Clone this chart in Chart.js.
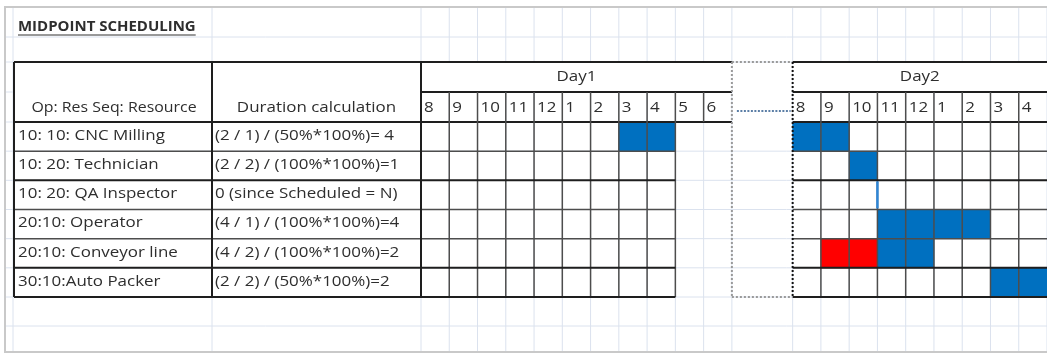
<!DOCTYPE html>
<html>
<head>
<meta charset="utf-8">
<title>Midpoint scheduling</title>
<script src="https://cdn.jsdelivr.net/npm/chart.js@4.4.1/dist/chart.umd.min.js"></script>
<style>
    html, body { margin: 0; padding: 0; background: #fff; }
    #sheet { display: block; }
</style>
</head>
<body>
<canvas id="sheet" width="1047" height="354"></canvas>
<script>
    // Table rows
    const resources = ['10: 10: CNC Milling', '10: 20: Technician', '10: 20: QA Inspector',
        '20:10: Operator', '20:10: Conveyor line', '30:10:Auto Packer'];
    const durations = ['(2 / 1) / (50%*100%)= 4', '(2 / 2) / (100%*100%)=1', '0 (since Scheduled = N)',
        '(4 / 1) / (100%*100%)=4', '(4 / 2) / (100%*100%)=2', '(2 / 2) / (50%*100%)=2'];

    // Hour columns
    const day1Hours = ['8', '9', '10', '11', '12', '1', '2', '3', '4', '5', '6'];
    const day2Hours = ['8', '9', '10', '11', '12', '1', '2', '3', '4'];
    const dayLabels = ['Day1', 'Day2'];

    // Scheduled blocks, [first hour index, end hour index] per row
    const blueDay1 = [[7, 9], null, null, null, null, null];
    const blueDay2 = [[0, 2], [2, 3], null, [3, 7], [3, 5], [7, 9]];
    const redDay2 = [null, null, null, null, [1, 3], null];
    // QA inspector link (row, day2 hour index)
    const qaLink = [2, 3];

    const GAP = 2.15;   // width of the "......" column, in hour slots
    const day2Start = day1Hours.length + GAP;
    const totalSlots = day2Start + day2Hours.length;

    function toSlots(list, offset) {
        return list.map(function (v) { return v ? [v[0] + offset, v[1] + offset] : null; });
    }

    const FONT = '"Open Sans", "Liberation Sans", sans-serif';
    const TXT = '#2e2e2e';
    const LIGHT = '#dbe2ee';
    const STRETCH = 1.13;   // calibri-ish wide look

    // sheet layout (pixels)
    const L = { frameX: 5, frameY: 7, c0: 13, t0: 14, t1: 212, t2: 421,
        r0: 37, hTop: 62, hMid: 92, bottom2: 326, frameB: 352 };

    function line(ctx, x1, y1, x2, y2, color, w, dash) {
        ctx.save();
        ctx.strokeStyle = color;
        ctx.lineWidth = w;
        ctx.setLineDash(dash || []);
        ctx.beginPath();
        ctx.moveTo(x1, y1);
        ctx.lineTo(x2, y2);
        ctx.stroke();
        ctx.restore();
    }

    function text(ctx, s, x, y, align, font, sx) {
        ctx.save();
        ctx.fillStyle = TXT;
        ctx.font = font || ('15px ' + FONT);
        ctx.textAlign = align || 'left';
        ctx.textBaseline = 'middle';
        ctx.translate(x, y);
        ctx.scale(sx || STRETCH, 1);
        ctx.fillText(s, 0, 0);
        const w = ctx.measureText(s).width * (sx || STRETCH);
        ctx.restore();
        return w;
    }

    const sheetPlugin = {
        id: 'sheet',
        beforeDatasetsDraw(chart) {
            const ctx = chart.ctx, xs = chart.scales.x, a = chart.chartArea;
            const W = chart.width;
            const rowH = (a.bottom - a.top) / resources.length;
            const rowsY = [L.frameY, L.r0, L.hTop, L.hMid, a.top];
            for (let i = 1; i <= resources.length; i++) rowsY.push(a.top + i * rowH);
            rowsY.push(L.bottom2);

            ctx.save();
            ctx.fillStyle = '#fff';
            ctx.fillRect(0, 0, W, chart.height);
            ctx.restore();

            // light spreadsheet grid
            const colsX = [L.c0, L.t1, L.t2];
            for (let i = 1; i <= day1Hours.length; i++) colsX.push(xs.getPixelForValue(i));
            for (let j = 0; j <= day2Hours.length; j++) colsX.push(xs.getPixelForValue(day2Start + j));
            colsX.forEach(function (x) { line(ctx, x, L.frameY, x, L.frameB, LIGHT, 1); });
            rowsY.forEach(function (y) { line(ctx, L.frameX, y, W, y, LIGHT, 1); });

            // merged cells
            ctx.save();
            ctx.fillStyle = '#fff';
            ctx.fillRect(L.t0, L.hTop, L.t2 - L.t0, a.top - L.hTop);
            ctx.fillRect(L.t2, L.hTop, xs.getPixelForValue(day1Hours.length) - L.t2, L.hMid - L.hTop);
            ctx.fillRect(xs.getPixelForValue(day2Start), L.hTop, W, L.hMid - L.hTop);
            ctx.fillRect(xs.getPixelForValue(day1Hours.length) + 1, L.hTop + 1,
                xs.getPixelForValue(day2Start) - xs.getPixelForValue(day1Hours.length) - 2, a.top - L.hTop);
            ctx.restore();

            // outer frame
            ctx.save();
            ctx.strokeStyle = '#c9c9c9';
            ctx.lineWidth = 2;
            ctx.strokeRect(L.frameX, L.frameY, W + 10, L.frameB - L.frameY);
            ctx.restore();
        },
        afterDatasetsDraw(chart) {
            const ctx = chart.ctx, xs = chart.scales.x, a = chart.chartArea;
            const W = chart.width;
            const rowH = (a.bottom - a.top) / resources.length;
            const d1End = xs.getPixelForValue(day1Hours.length);
            const d1Dark = xs.getPixelForValue(day1Hours.length - 2);
            const d2Left = xs.getPixelForValue(day2Start);
            const heavy = [0, 2, 5, 6];
            const DARK = '#1e1e1e', MID = '#4d4d4d';

            // header box lines
            line(ctx, L.t0, L.hTop, d1End, L.hTop, DARK, 2);
            line(ctx, L.t2, L.hMid, d1End, L.hMid, DARK, 2);
            line(ctx, d2Left, L.hTop, W, L.hTop, DARK, 2);
            line(ctx, d2Left, L.hMid, W, L.hMid, DARK, 2);
            line(ctx, L.t0, a.top, d1End, a.top, DARK, 2);
            line(ctx, d2Left, a.top, W, a.top, DARK, 2);

            // hour cell verticals in the header
            for (let i = 1; i < day1Hours.length; i++) {
                const x = xs.getPixelForValue(i);
                line(ctx, x, L.hMid, x, a.top, MID, 1.5);
            }
            for (let j = 1; j < day2Hours.length; j++) {
                const x = xs.getPixelForValue(day2Start + j);
                line(ctx, x, L.hMid, x, a.bottom, MID, 1.5);
            }
            // day1 body verticals
            for (let i = 1; i <= day1Hours.length - 2; i++) {
                const x = xs.getPixelForValue(i);
                line(ctx, x, a.top, x, a.bottom, MID, 1.5);
            }

            // row lines
            for (let r = 1; r <= resources.length; r++) {
                const y = a.top + r * rowH;
                const hv = heavy.indexOf(r) >= 0;
                line(ctx, L.t0, y, d1Dark, y, hv ? DARK : MID, hv ? 2 : 1.5);
                line(ctx, d2Left, y, W, y, hv ? DARK : MID, hv ? 2 : 1.5);
            }

            // QA inspector link
            const lx = xs.getPixelForValue(day2Start + qaLink[1]);
            line(ctx, lx, a.top + qaLink[0] * rowH + 1, lx, a.top + (qaLink[0] + 1) * rowH - 1, '#2f86d6', 2.5);

            // left table verticals
            [L.t0, L.t1, L.t2].forEach(function (x) { line(ctx, x, L.hTop, x, a.bottom, DARK, 2); });

            // dotted gap column
            line(ctx, d1End, L.hTop, d1End, a.bottom, '#9a9a9a', 2, [2, 2]);
            line(ctx, d1End, L.hTop, d2Left, L.hTop, '#9a9a9a', 2, [2, 2]);
            line(ctx, d1End, a.bottom, d2Left, a.bottom, '#9a9a9a', 2, [2, 2]);
            line(ctx, d2Left, L.hTop, d2Left, a.bottom, '#111', 2, [2, 2]);
            line(ctx, d1End + 5, (L.hMid + a.top) / 2 + 4, d2Left - 2, (L.hMid + a.top) / 2 + 4, '#5b7ea6', 2, [2, 1.5]);

            // title
            const tw = text(ctx, 'MIDPOINT SCHEDULING', 18, 27, 'left', 'bold 14px ' + FONT, 1.07);
            line(ctx, 18, 35, 18 + tw, 35, '#333', 1);

            // headers
            const hy = (L.hMid + a.top) / 2 + 1;
            text(ctx, 'Op: Res Seq: Resource', (L.t0 + L.t1) / 2 + 1, hy, 'center', null, 1.06);
            text(ctx, 'Duration calculation', (L.t1 + L.t2) / 2, hy, 'center');
            text(ctx, dayLabels[0], (L.t2 + d1End) / 2, (L.hTop + L.hMid) / 2, 'center');
            text(ctx, dayLabels[1], (d2Left + W) / 2, (L.hTop + L.hMid) / 2, 'center');
            day1Hours.forEach(function (h, i) { text(ctx, h, xs.getPixelForValue(i) + 3, hy); });
            day2Hours.forEach(function (h, j) { text(ctx, h, xs.getPixelForValue(day2Start + j) + 3, hy); });

            // body text
            resources.forEach(function (s, r) {
                const y = a.top + (r + 0.5) * rowH - 1;
                text(ctx, s, L.t0 + 4, y);
                text(ctx, durations[r], L.t1 + 3, y);
            });
        }
    };

    const ctx = document.getElementById('sheet').getContext('2d');
    const chart = new Chart(ctx, {
        type: 'bar',
        data: {
            labels: resources,
            datasets: [{
                label: 'Day1',
                data: toSlots(blueDay1, 0),
                backgroundColor: '#0070c0'
            }, {
                label: 'Day2',
                data: toSlots(blueDay2, day2Start),
                backgroundColor: '#0070c0'
            }, {
                label: 'Day2 early',
                data: toSlots(redDay2, day2Start),
                backgroundColor: '#ff0000'
            }]
        },
        options: {
            indexAxis: 'y',
            responsive: false,
            animation: false,
            devicePixelRatio: 1,
            grouped: false,
            barPercentage: 1,
            categoryPercentage: 1,
            borderWidth: 0,
            layout: { padding: { left: 421, top: 122, right: 0, bottom: 57 } },
            scales: {
                x: { type: 'linear', min: 0, max: totalSlots, display: false },
                y: { display: false }
            },
            plugins: {
                legend: { display: false },
                tooltip: { enabled: false }
            }
        },
        plugins: [sheetPlugin]
    });
</script>
</body>
</html>
